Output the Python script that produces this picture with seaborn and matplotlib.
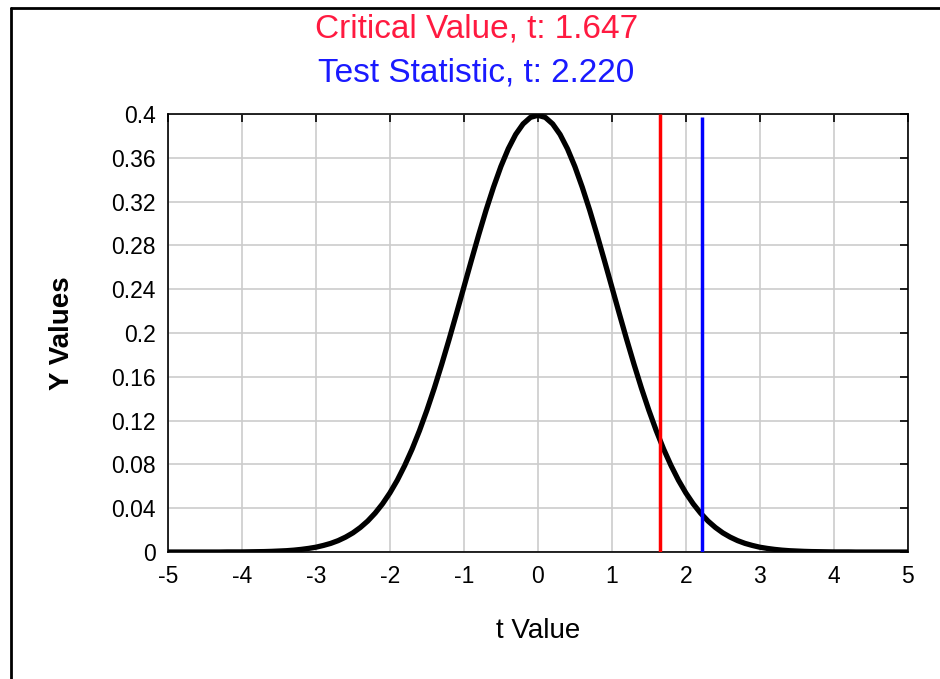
import pandas as pd
import seaborn as sns
import matplotlib.pyplot as plt
from matplotlib.lines import Line2D

# -----------------------
# Data
# -----------------------
t_values = [
    -5.0, -4.9, -4.8, -4.7, -4.6, -4.5, -4.4, -4.3, -4.2, -4.1,
    -4.0, -3.9, -3.8, -3.7, -3.6, -3.5, -3.4, -3.3, -3.2, -3.1,
    -3.0, -2.9, -2.8, -2.7, -2.6, -2.5, -2.4, -2.3, -2.2, -2.1,
    -2.0, -1.9, -1.8, -1.7, -1.6, -1.5, -1.4, -1.3, -1.2, -1.1,
    -1.0, -0.9, -0.8, -0.7, -0.6, -0.5, -0.4, -0.3, -0.2, -0.1,
    0.0,
    0.1, 0.2, 0.3, 0.4, 0.5, 0.6, 0.7, 0.8, 0.9, 1.0,
    1.1, 1.2, 1.3, 1.4, 1.5, 1.6, 1.7, 1.8, 1.9, 2.0,
    2.1, 2.2, 2.3, 2.4, 2.5, 2.6, 2.7, 2.8, 2.9, 3.0,
    3.1, 3.2, 3.3, 3.4, 3.5, 3.6, 3.7, 3.8, 3.9, 4.0,
    4.1, 4.2, 4.3, 4.4, 4.5, 4.6, 4.7, 4.8, 4.9, 5.0,
]
y_values = [
    0.0000, 0.0000, 0.0000, 0.0000, 0.0000, 0.0000, 0.0000, 0.0000, 0.0001, 0.0001,
    0.0001, 0.0002, 0.0003, 0.0004, 0.0006, 0.0009, 0.0012, 0.0017, 0.0024, 0.0033,
    0.0044, 0.0060, 0.0079, 0.0104, 0.0136, 0.0175, 0.0224, 0.0283, 0.0355, 0.0440,
    0.0540, 0.0656, 0.0790, 0.0940, 0.1109, 0.1295, 0.1497, 0.1714, 0.1942, 0.2179,
    0.2420, 0.2661, 0.2897, 0.3123, 0.3332, 0.3521, 0.3683, 0.3814, 0.3910, 0.3970,
    0.3989,
    0.3970, 0.3910, 0.3814, 0.3683, 0.3521, 0.3332, 0.3123, 0.2897, 0.2661, 0.2420,
    0.2179, 0.1942, 0.1714, 0.1497, 0.1295, 0.1109, 0.0940, 0.0790, 0.0656, 0.0540,
    0.0440, 0.0355, 0.0283, 0.0224, 0.0175, 0.0136, 0.0104, 0.0079, 0.0060, 0.0044,
    0.0033, 0.0024, 0.0017, 0.0012, 0.0009, 0.0006, 0.0004, 0.0003, 0.0002, 0.0001,
    0.0001, 0.0001, 0.0000, 0.0000, 0.0000, 0.0000, 0.0000, 0.0000, 0.0000, 0.0000,
]
critical_t = 1.647
test_t = 2.220
critical_top = 0.4
test_top = 0.397

x_ticks = [-5, -4, -3, -2, -1, 0, 1, 2, 3, 4, 5]
x_tick_labels = ["-5", "-4", "-3", "-2", "-1", "0", "1", "2", "3", "4", "5"]
y_ticks = [0, 0.04, 0.08, 0.12, 0.16, 0.2, 0.24, 0.28, 0.32, 0.36, 0.4]
y_tick_labels = ["0", "0.04", "0.08", "0.12", "0.16", "0.2", "0.24", "0.28", "0.32", "0.36", "0.4"]

df = pd.DataFrame({"t": t_values, "y": y_values})

# -----------------------
# Plot
# -----------------------
sns.set_style("white")
plt.rcParams["font.family"] = ["Liberation Sans", "DejaVu Sans"]
plt.rcParams["axes.unicode_minus"] = False

fig = plt.figure(figsize=(9.4, 6.79), dpi=100)
ax = fig.add_axes([0.1787, 0.187, 0.787, 0.645])

sns.lineplot(data=df, x="t", y="y", color="black", linewidth=3.8, ax=ax)
ax.vlines(critical_t, 0, critical_top, color="#ff0000", linewidth=2.5, zorder=3)
ax.vlines(test_t, 0, test_top, color="#0000ff", linewidth=2.5, zorder=3)

ax.set_xlim(-5, 5)
ax.set_ylim(0, 0.4)
ax.set_xticks(x_ticks)
ax.set_xticklabels(x_tick_labels)
ax.set_yticks(y_ticks)
ax.set_yticklabels(y_tick_labels)
ax.grid(True, color="#cccccc", linewidth=1.2)
ax.set_axisbelow(True)
ax.tick_params(direction="in", length=6, width=1.2, color="black",
               labelcolor="black", top=True, right=True, labelsize=16.5)
ax.tick_params(axis="x", pad=9)
ax.tick_params(axis="y", pad=9)
for s in ax.spines.values():
    s.set_color("black")
    s.set_linewidth(1.2)

ax.set_xlabel("t Value", fontsize=20, color="black", labelpad=22)
ax.set_ylabel("Y Values", fontsize=20, fontweight="bold", color="black", labelpad=26)

fig.text(0.507, 0.958, "Critical Value, t: 1.647", color="#ff1a40",
         fontsize=24, ha="center", va="center")
fig.text(0.507, 0.893, "Test Statistic, t: 2.220", color="#1a1aff",
         fontsize=24, ha="center", va="center")

# window-like frame on left and top
fig.add_artist(Line2D([0.0117, 0.0117], [0, 0.988], color="black", linewidth=2,
                      transform=fig.transFigure))
fig.add_artist(Line2D([0.0117, 1.0], [0.988, 0.988], color="black", linewidth=2,
                      transform=fig.transFigure))

plt.savefig("out.png", dpi=100)
